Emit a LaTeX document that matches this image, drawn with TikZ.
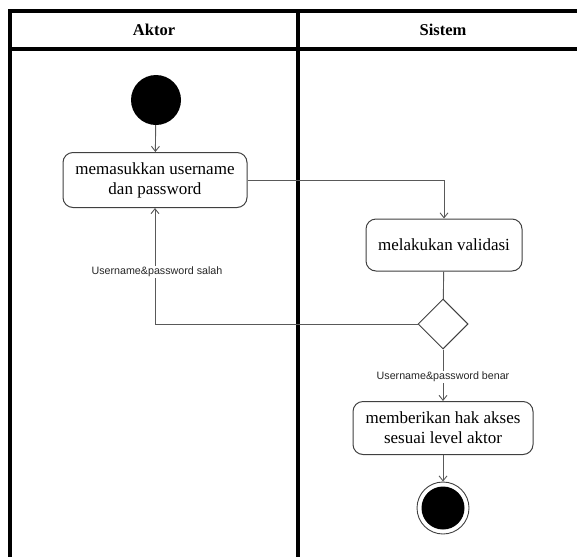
\documentclass[tikz,border=0pt]{standalone}
\usepackage{fontspec}
\setmainfont{Liberation Serif}
\newfontfamily\labfont{Liberation Sans}
\usetikzlibrary{arrows.meta,shapes.geometric,calc}
\tikzset{
  lane/.style={line width=3.6pt,black},
  act/.style={draw=black!75,line width=1pt,rounded corners=10pt,fill=white,align=center,
    font=\fontsize{17}{20}\selectfont,inner sep=0pt},
  conn/.style={draw=black!65,line width=0.9pt,-{Straight Barb[length=5pt,width=8pt]}},
  plain/.style={draw=black!65,line width=0.9pt},
  guard/.style={fill=white,inner sep=1pt,font=\labfont\fontsize{10.7}{12}\selectfont,text=black!85},
  hdr/.style={font=\bfseries\fontsize{16.5}{19}\selectfont},
}
\begin{document}
\begin{tikzpicture}[x=1pt,y=-1pt]
\useasboundingbox (0,0) rectangle (577,557);
% swimlanes
\draw[lane] (577,11) -- (10,11) -- (10,557);
\draw[lane] (10,49) -- (577,49);
\draw[lane] (298,11) -- (298,557);
\node[hdr] (h1) at (154,30) {Aktor};
\node[hdr] (h2) at (443,30) {Sistem};
% nodes
\node[circle,fill=black,minimum size=50,inner sep=0pt] (start) at (156,100) {};
\node[act,minimum width=184,minimum height=55] (b1) at (155,180) {memasukkan username\\dan password};
\node[act,minimum width=156,minimum height=52] (b2) at (444,245) {melakukan validasi};
\node[diamond,draw=black!75,line width=1pt,fill=white,minimum width=50,minimum height=50,inner sep=0pt] (d) at (443,324) {};
\node[act,minimum width=180,minimum height=53] (b3) at (443,428) {memberikan hak akses\\sesuai level aktor};
\node[circle,draw=black!75,line width=0.9pt,minimum size=52,inner sep=0pt] (end) at (443,508) {};
\fill[black] (end.center) circle (21.5);
% connectors
\draw[conn] (start) -- (b1);
\coordinate (c1) at (b1.east -| b2.north);
\draw[conn] (b1.east) -- (c1) -- (b2.north);
\draw[plain] (b2) -- (d);
\coordinate (c2) at (d.west -| b1.south);
\draw[conn] (d.west) -- (c2) -- (b1.south);
\draw[conn] (d.south) -- (b3.north);
\draw[conn] (b3) -- (end);
\node[guard] (lsalah) at (157,272) {Username\&password salah};
\node[guard] (lbenar) at (443,377) {Username\&password benar};
\end{tikzpicture}
\end{document}
